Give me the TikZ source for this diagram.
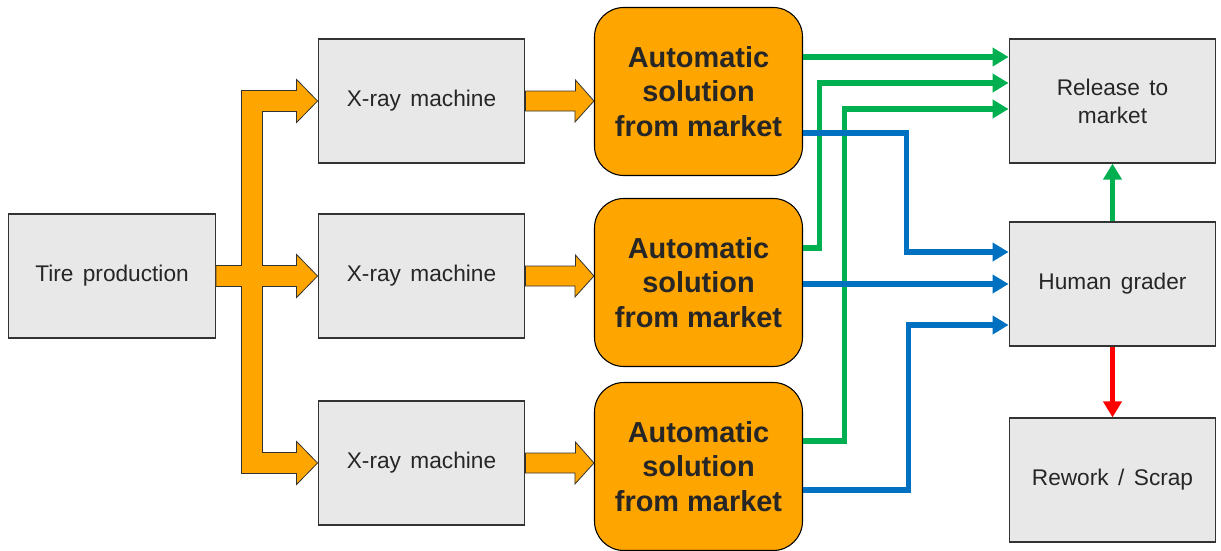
\documentclass[tikz,border=0pt]{standalone}
\usepackage{fontspec}
\setmainfont{Liberation Sans}
\newfontfamily\boxfont[WordSpace=1.5]{Liberation Sans}
\usetikzlibrary{arrows.meta,calc}

\definecolor{boxgray}{HTML}{E8E8E8}
\definecolor{autoorange}{HTML}{FFA500}
\definecolor{okgreen}{HTML}{00B050}
\definecolor{gradeblue}{HTML}{0070C0}
\definecolor{scrapred}{HTML}{FF0000}

\tikzset{
  graybox/.style={draw=black!80,line width=0.9pt,fill=boxgray,minimum width=155pt,minimum height=93pt,
    align=center,font=\boxfont\fontsize{17}{21}\selectfont,text=black!85},
  autobox/.style={draw=black,line width=0.8pt,fill=autoorange,rounded corners=22pt,minimum width=156pt,
    minimum height=126pt,align=center,font=\fontsize{21.7}{26}\selectfont\bfseries,text=black!85},
  fatarrow/.style={draw=black!80,line width=0.6pt,fill=autoorange,line join=miter},
  gline/.style={draw=okgreen,line width=3.8pt,-{Triangle[length=12pt,width=13.5pt]}},
  bline/.style={draw=gradeblue,line width=3.8pt,-{Triangle[length=12pt,width=13.5pt]}},
  rline/.style={draw=scrapred,line width=3.8pt,-{Triangle[length=12pt,width=13.5pt]}}
}

\begin{document}
\begin{tikzpicture}[x=0.75pt,y=-0.75pt]

      \useasboundingbox (0,0) rectangle (1221,550);

      % boxes
      \node[graybox] (tire) at (112,276){Tire production};
      \node[graybox] (x1) at (421.5,101){X-ray machine};
      \node[graybox] (x2) at (421.5,276){X-ray machine};
      \node[graybox] (x3) at (421.5,463){X-ray machine};

      \node[autobox] (a1) at (698.5,91.5){Automatic\\solution\\from market};
      \node[autobox] (a2) at (698.5,282.5){Automatic\\solution\\from market};
      \node[autobox] (a3) at (698.5,466.5){Automatic\\solution\\from market};

      \node[graybox] (rel) at (1112.5,101){Release to\\market};
      \node[graybox] (gr) at (1112.5,284){Human grader};
      \node[graybox] (rw) at (1112.5,480){Rework / Scrap};

      % fat orange arrows
      \filldraw[fatarrow] ($(tire.east)+(0,-10.5)$) -| ($(x1.west)+(-76,-10.5)$)
        -- ($(x1.west)+(-21,-10.5)$) -- ++(0,-11) -- (x1.west) -- ($(x1.west)+(-21,21.5)$) -- ++(0,-11)
        -- ($(x1.west)+(-55,10.5)$) |- ($(x2.west)+(-21,-10.5)$)
        -- ++(0,-11) -- (x2.west) -- ($(x2.west)+(-21,21.5)$) -- ++(0,-11)
        -- ($(x2.west)+(-55,10.5)$) |- ($(x3.west)+(-21,-10.5)$)
        -- ++(0,-11) -- (x3.west) -- ($(x3.west)+(-21,21.5)$) -- ++(0,-11)
        -| ($(x2.west)+(-76,10.5)$) -- ($(tire.east)+(0,10.5)$) -- cycle;

      \filldraw[fatarrow] ($(x1.east)+(0,-10)$) -- ++(50,0) -- ++(0,-11) -- (a1.west |- x1.east)
        -- ($(a1.west |- x1.east)+(-19,21)$) -- ++(0,-11) -- ($(x1.east)+(0,10)$) -- cycle;
      \filldraw[fatarrow] ($(x2.east)+(0,-10)$) -- ++(50,0) -- ++(0,-11) -- (a2.west |- x2.east)
        -- ($(a2.west |- x2.east)+(-19,21)$) -- ++(0,-11) -- ($(x2.east)+(0,10)$) -- cycle;
      \filldraw[fatarrow] ($(x3.east)+(0,-10)$) -- ++(50,0) -- ++(0,-11) -- (a3.west |- x3.east)
        -- ($(a3.west |- x3.east)+(-19,21)$) -- ++(0,-11) -- ($(x3.east)+(0,10)$) -- cycle;

      % release lines
      \draw[gline] ($(a1.east)+(0,-34.5)$) -- ($(rel.west)+(0,-44)$);
      \draw[gline] ($(a2.east)+(0,-34.5)$) -- ++(16,0) |- ($(rel.west)+(0,-18)$);
      \draw[gline] ($(a3.east)+(0,-25.5)$) -- ++(41,0) |- ($(rel.west)+(0,8)$);

      % grader lines
      \draw[bline] ($(a1.east)+(0,41.5)$) -- ++(103,0) |- ($(gr.west)+(0,-32)$);
      \draw[bline] ($(a2.east)+(0,1.5)$) -- ($(gr.west)+(0,0)$);
      \draw[bline] ($(a3.east)+(0,23.5)$) -- ++(105,0) |- ($(gr.west)+(0,41)$);

      \draw[gline] (gr.north) -- (rel.south);
      \draw[rline] (gr.south) -- (rw.north);

\end{tikzpicture}
\end{document}
